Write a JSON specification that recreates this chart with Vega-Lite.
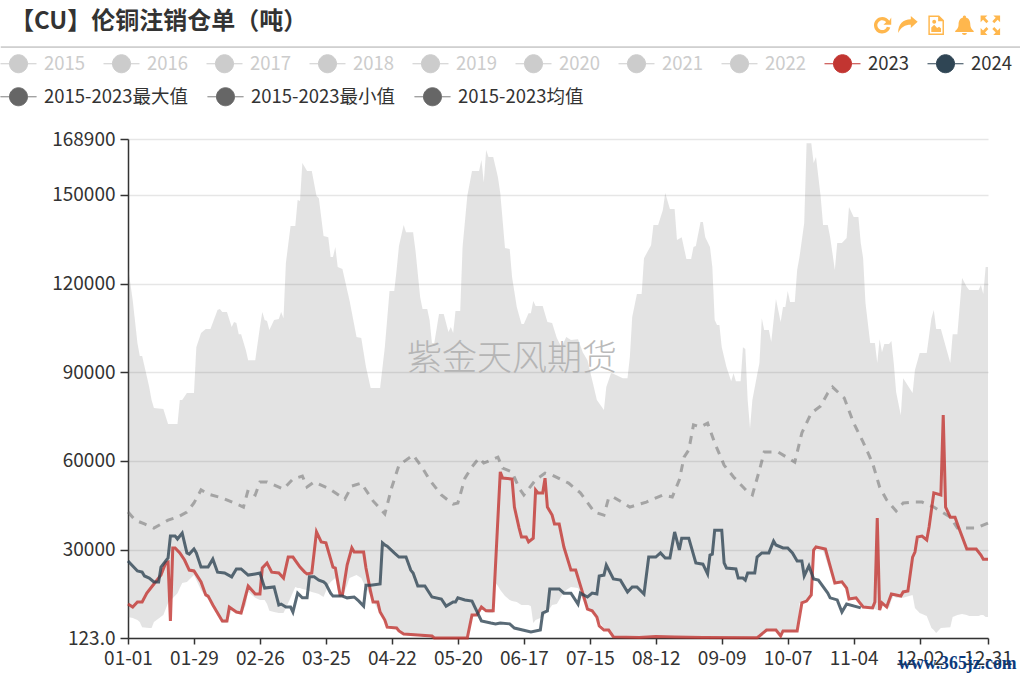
{
  "$schema": "https://vega.github.io/schema/vega-lite/v6.json",
  "width": 860,
  "height": 499,
  "autosize": "none",
  "padding": {"left": 128, "top": 139, "right": 32, "bottom": 41},
  "background": "white",
  "title": {
    "text": "【CU】伦铜注销仓单（吨）",
    "anchor": "start",
    "frame": "group",
    "dx": -118,
    "dy": 23,
    "font": "Noto Sans CJK SC",
    "fontSize": 24,
    "fontWeight": "bold",
    "color": "#333"
  },
  "datasets": {
    "band": [
      {"date":"2024-01-01","max":125600,"min":7200},{"date":"2024-01-03","max":114400,"min":6900},{"date":"2024-01-05","max":99900,"min":6200},{"date":"2024-01-06","max":95500,"min":5500},{"date":"2024-01-07","max":95500,"min":3800},{"date":"2024-01-10","max":85000,"min":3500},{"date":"2024-01-11","max":80600,"min":3500},{"date":"2024-01-12","max":77900,"min":5500},{"date":"2024-01-16","max":77600,"min":7900},{"date":"2024-01-18","max":72500,"min":12000},{"date":"2024-01-22","max":72500,"min":15300},{"date":"2024-01-23","max":80600,"min":17000},{"date":"2024-01-24","max":80600,"min":18700},{"date":"2024-01-26","max":83000,"min":19100},{"date":"2024-01-29","max":83000,"min":21400},{"date":"2024-01-30","max":98500,"min":19700},
      {"date":"2024-02-01","max":103300,"min":16400},{"date":"2024-02-03","max":104600,"min":14000},{"date":"2024-02-05","max":104600,"min":13000},{"date":"2024-02-08","max":111100,"min":8900},{"date":"2024-02-09","max":111400,"min":7200},{"date":"2024-02-10","max":110400,"min":5200},{"date":"2024-02-12","max":110400,"min":5200},{"date":"2024-02-14","max":105300,"min":9600},{"date":"2024-02-15","max":107000,"min":9300},{"date":"2024-02-16","max":106700,"min":8600},{"date":"2024-02-17","max":102900,"min":8200},{"date":"2024-02-18","max":102900,"min":7900},{"date":"2024-02-20","max":97500,"min":11300},{"date":"2024-02-21","max":94100,"min":15700},{"date":"2024-02-24","max":94100,"min":13700},{"date":"2024-02-26","max":105300,"min":13000},{"date":"2024-02-27","max":110400,"min":13000},{"date":"2024-02-28","max":107700,"min":13000},{"date":"2024-02-29","max":107300,"min":11600},
      {"date":"2024-03-01","max":104300,"min":9300},{"date":"2024-03-03","max":107700,"min":8900},{"date":"2024-03-05","max":108000,"min":8600},{"date":"2024-03-06","max":110400,"min":8600},{"date":"2024-03-07","max":108300,"min":8600},{"date":"2024-03-08","max":126900,"min":10300},{"date":"2024-03-10","max":139500,"min":13700},{"date":"2024-03-12","max":139500,"min":17400},{"date":"2024-03-13","max":148300,"min":17000},{"date":"2024-03-14","max":147900,"min":17000},{"date":"2024-03-15","max":160800,"min":16700},{"date":"2024-03-17","max":158100,"min":16400},{"date":"2024-03-19","max":158100,"min":15700},{"date":"2024-03-21","max":149600,"min":15300},{"date":"2024-03-22","max":148900,"min":15000},{"date":"2024-03-24","max":136100,"min":14000},{"date":"2024-03-26","max":135700,"min":18000},{"date":"2024-03-27","max":129000,"min":19100},{"date":"2024-03-28","max":129000,"min":19700},{"date":"2024-03-29","max":132400,"min":20400},{"date":"2024-03-30","max":125600,"min":16400},
      {"date":"2024-04-01","max":124900,"min":14000},{"date":"2024-04-03","max":117800,"min":18000},{"date":"2024-04-04","max":114400,"min":20400},{"date":"2024-04-07","max":101900,"min":21400},{"date":"2024-04-09","max":101600,"min":20400},{"date":"2024-04-11","max":91800,"min":17000},{"date":"2024-04-13","max":84700,"min":14300},{"date":"2024-04-17","max":84700,"min":8200},{"date":"2024-04-19","max":98500,"min":5500},{"date":"2024-04-21","max":117500,"min":3500},{"date":"2024-04-23","max":117500,"min":3200},{"date":"2024-04-24","max":124600,"min":3200},{"date":"2024-04-25","max":132700,"min":2500},{"date":"2024-04-27","max":139800,"min":1100},{"date":"2024-04-28","max":137400,"min":1100},
      {"date":"2024-05-01","max":137400,"min":800},{"date":"2024-05-02","max":131300,"min":800},{"date":"2024-05-04","max":115400,"min":800},{"date":"2024-05-05","max":111400,"min":500},{"date":"2024-05-07","max":111400,"min":500},{"date":"2024-05-08","max":107700,"min":500},{"date":"2024-05-09","max":99900,"min":300},{"date":"2024-05-10","max":99900,"min":200},{"date":"2024-05-12","max":109700,"min":200},{"date":"2024-05-14","max":109700,"min":200},{"date":"2024-05-16","max":103600,"min":200},{"date":"2024-05-17","max":105300,"min":200},{"date":"2024-05-18","max":103300,"min":200},{"date":"2024-05-19","max":110700,"min":200},{"date":"2024-05-21","max":110700,"min":200},{"date":"2024-05-22","max":132400,"min":200},{"date":"2024-05-24","max":149600,"min":200},{"date":"2024-05-26","max":158100,"min":7200},{"date":"2024-05-29","max":158100,"min":7900},{"date":"2024-05-30","max":161800,"min":9900},{"date":"2024-05-31","max":154300,"min":9600},
      {"date":"2024-06-01","max":165200,"min":8900},{"date":"2024-06-02","max":162800,"min":8600},{"date":"2024-06-04","max":162800,"min":8600},{"date":"2024-06-05","max":159400,"min":18700},{"date":"2024-06-06","max":156000,"min":17700},{"date":"2024-06-07","max":150600,"min":16400},{"date":"2024-06-09","max":132000,"min":14300},{"date":"2024-06-11","max":131700,"min":13000},{"date":"2024-06-12","max":122200,"min":12600},{"date":"2024-06-14","max":112100,"min":12300},{"date":"2024-06-16","max":106300,"min":11300},{"date":"2024-06-17","max":106300,"min":11300},{"date":"2024-06-19","max":110000,"min":11300},{"date":"2024-06-20","max":110000,"min":10900},{"date":"2024-06-21","max":114100,"min":5200},{"date":"2024-06-22","max":112400,"min":6200},{"date":"2024-06-25","max":112400,"min":7200},{"date":"2024-06-27","max":107000,"min":8900},{"date":"2024-06-29","max":106700,"min":11300},
      {"date":"2024-07-01","max":101600,"min":11600},{"date":"2024-07-03","max":98500,"min":14300},{"date":"2024-07-05","max":101900,"min":16400},{"date":"2024-07-07","max":100900,"min":17400},{"date":"2024-07-10","max":101200,"min":17000},{"date":"2024-07-12","max":96800,"min":13000},{"date":"2024-07-14","max":94100,"min":9600},{"date":"2024-07-16","max":87400,"min":8900},{"date":"2024-07-18","max":80600,"min":6900},{"date":"2024-07-21","max":77200,"min":3500},{"date":"2024-07-22","max":85000,"min":2800},{"date":"2024-07-24","max":89700,"min":2500},{"date":"2024-07-25","max":89500,"min":500},{"date":"2024-07-29","max":88000,"min":300},{"date":"2024-07-31","max":88000,"min":300},
      {"date":"2024-08-01","max":95200,"min":300},{"date":"2024-08-02","max":108700,"min":300},{"date":"2024-08-04","max":116500,"min":300},{"date":"2024-08-06","max":116500,"min":300},{"date":"2024-08-07","max":128600,"min":300},{"date":"2024-08-10","max":133000,"min":300},{"date":"2024-08-11","max":139800,"min":300},{"date":"2024-08-13","max":139800,"min":300},{"date":"2024-08-15","max":144900,"min":300},{"date":"2024-08-16","max":150600,"min":300},{"date":"2024-08-18","max":145200,"min":300},{"date":"2024-08-20","max":145200,"min":300},{"date":"2024-08-21","max":134700,"min":300},{"date":"2024-08-23","max":135700,"min":300},{"date":"2024-08-25","max":128300,"min":300},{"date":"2024-08-27","max":128300,"min":300},{"date":"2024-08-28","max":132400,"min":300},{"date":"2024-08-29","max":132700,"min":300},{"date":"2024-08-31","max":140800,"min":300},
      {"date":"2024-09-01","max":140800,"min":300},{"date":"2024-09-02","max":135700,"min":300},{"date":"2024-09-04","max":132400,"min":300},{"date":"2024-09-05","max":125600,"min":300},{"date":"2024-09-06","max":107700,"min":300},{"date":"2024-09-07","max":106000,"min":300},{"date":"2024-09-08","max":106000,"min":300},{"date":"2024-09-09","max":98500,"min":300},{"date":"2024-09-11","max":91800,"min":300},{"date":"2024-09-13","max":87000,"min":300},{"date":"2024-09-14","max":89700,"min":300},{"date":"2024-09-15","max":87000,"min":300},{"date":"2024-09-17","max":87000,"min":300},{"date":"2024-09-18","max":98500,"min":300},{"date":"2024-09-19","max":97900,"min":300},{"date":"2024-09-20","max":80600,"min":300},{"date":"2024-09-21","max":71100,"min":300},{"date":"2024-09-22","max":80600,"min":300},{"date":"2024-09-24","max":89100,"min":300},{"date":"2024-09-25","max":93100,"min":500},{"date":"2024-09-26","max":108300,"min":1000},{"date":"2024-09-27","max":104300,"min":1800},{"date":"2024-09-29","max":104300,"min":2500},{"date":"2024-09-30","max":100200,"min":2500},
      {"date":"2024-10-02","max":114800,"min":2500},{"date":"2024-10-04","max":107000,"min":500},{"date":"2024-10-05","max":112100,"min":2100},{"date":"2024-10-06","max":112100,"min":2100},{"date":"2024-10-07","max":117500,"min":2100},{"date":"2024-10-08","max":113800,"min":2100},{"date":"2024-10-10","max":113800,"min":2100},{"date":"2024-10-11","max":124600,"min":2100},{"date":"2024-10-12","max":129000,"min":12000},{"date":"2024-10-14","max":140500,"min":12300},{"date":"2024-10-15","max":167500,"min":12300},{"date":"2024-10-17","max":167500,"min":14300},{"date":"2024-10-18","max":160800,"min":29500},{"date":"2024-10-19","max":162800,"min":30200},{"date":"2024-10-21","max":149300,"min":30200},{"date":"2024-10-22","max":139800,"min":29800},{"date":"2024-10-24","max":139800,"min":24800},{"date":"2024-10-25","max":135700,"min":22400},{"date":"2024-10-27","max":124600,"min":18400},{"date":"2024-10-28","max":133700,"min":18400},{"date":"2024-10-30","max":133700,"min":18700},
      {"date":"2024-11-01","max":135400,"min":16700},{"date":"2024-11-02","max":145900,"min":13000},{"date":"2024-11-04","max":142500,"min":13000},{"date":"2024-11-06","max":142500,"min":13300},{"date":"2024-11-07","max":133700,"min":12600},{"date":"2024-11-08","max":128600,"min":10300},{"date":"2024-11-09","max":113400,"min":10300},{"date":"2024-11-11","max":99900,"min":9900},{"date":"2024-11-13","max":99900,"min":9900},{"date":"2024-11-14","max":93100,"min":9600},{"date":"2024-11-15","max":101200,"min":9300},{"date":"2024-11-16","max":96800,"min":11600},{"date":"2024-11-17","max":99600,"min":10900},{"date":"2024-11-19","max":99600,"min":10300},{"date":"2024-11-20","max":100600,"min":13000},{"date":"2024-11-21","max":93100,"min":14300},{"date":"2024-11-22","max":83300,"min":13700},{"date":"2024-11-24","max":75500,"min":13700},{"date":"2024-11-25","max":88000,"min":13700},{"date":"2024-11-29","max":83000,"min":14700},{"date":"2024-11-30","max":90800,"min":10300},
      {"date":"2024-12-02","max":96500,"min":8600},{"date":"2024-12-05","max":96500,"min":7600},{"date":"2024-12-07","max":108300,"min":3500},{"date":"2024-12-08","max":111100,"min":2800},{"date":"2024-12-09","max":104600,"min":1800},{"date":"2024-12-11","max":104600,"min":3500},{"date":"2024-12-15","max":93100,"min":3800},{"date":"2024-12-16","max":102900,"min":7200},{"date":"2024-12-18","max":102900,"min":7900},{"date":"2024-12-20","max":121900,"min":8200},{"date":"2024-12-22","max":118800,"min":7900},{"date":"2024-12-23","max":117800,"min":7600},{"date":"2024-12-27","max":117800,"min":7600},{"date":"2024-12-28","max":119500,"min":7900},{"date":"2024-12-29","max":116500,"min":7900},{"date":"2024-12-30","max":125600,"min":7200},{"date":"2024-12-31","max":125600,"min":7200}
    ],
    "years": [
      {"date":"2024-01-01","year":"2023","value":11600},{"date":"2024-01-03","year":"2023","value":10600},{"date":"2024-01-05","year":"2023","value":12300},{"date":"2024-01-07","year":"2023","value":12300},{"date":"2024-01-09","year":"2023","value":15300},{"date":"2024-01-12","year":"2023","value":18400},{"date":"2024-01-15","year":"2023","value":21400},{"date":"2024-01-17","year":"2023","value":25500},{"date":"2024-01-18","year":"2023","value":25800},{"date":"2024-01-19","year":"2023","value":5900},{"date":"2024-01-20","year":"2023","value":30600},{"date":"2024-01-21","year":"2023","value":30600},{"date":"2024-01-23","year":"2023","value":28900},{"date":"2024-01-25","year":"2023","value":26500},{"date":"2024-01-27","year":"2023","value":23100},{"date":"2024-01-29","year":"2023","value":22800},
      {"date":"2024-02-01","year":"2023","value":19100},{"date":"2024-02-03","year":"2023","value":14700},{"date":"2024-02-04","year":"2023","value":14300},{"date":"2024-02-06","year":"2023","value":11300},{"date":"2024-02-10","year":"2023","value":5900},{"date":"2024-02-12","year":"2023","value":5900},{"date":"2024-02-13","year":"2023","value":10600},{"date":"2024-02-16","year":"2023","value":8900},{"date":"2024-02-18","year":"2023","value":8600},{"date":"2024-02-21","year":"2023","value":17700},{"date":"2024-02-24","year":"2023","value":15000},{"date":"2024-02-26","year":"2023","value":15000},{"date":"2024-02-27","year":"2023","value":23800},{"date":"2024-02-29","year":"2023","value":25500},
      {"date":"2024-03-02","year":"2023","value":22400},{"date":"2024-03-05","year":"2023","value":22100},{"date":"2024-03-07","year":"2023","value":20400},{"date":"2024-03-09","year":"2023","value":27500},{"date":"2024-03-11","year":"2023","value":27500},{"date":"2024-03-14","year":"2023","value":24100},{"date":"2024-03-16","year":"2023","value":22400},{"date":"2024-03-17","year":"2023","value":21800},{"date":"2024-03-19","year":"2023","value":22100},{"date":"2024-03-21","year":"2023","value":36000},{"date":"2024-03-23","year":"2023","value":32600},{"date":"2024-03-25","year":"2023","value":32300},{"date":"2024-03-28","year":"2023","value":24100},{"date":"2024-03-29","year":"2023","value":23800},{"date":"2024-03-31","year":"2023","value":14700},
      {"date":"2024-04-01","year":"2023","value":14700},{"date":"2024-04-03","year":"2023","value":24800},{"date":"2024-04-05","year":"2023","value":30600},{"date":"2024-04-06","year":"2023","value":29200},{"date":"2024-04-10","year":"2023","value":29200},{"date":"2024-04-11","year":"2023","value":23800},{"date":"2024-04-13","year":"2023","value":15700},{"date":"2024-04-14","year":"2023","value":12300},{"date":"2024-04-16","year":"2023","value":12300},{"date":"2024-04-17","year":"2023","value":8900},{"date":"2024-04-19","year":"2023","value":6200},{"date":"2024-04-20","year":"2023","value":3800},{"date":"2024-04-24","year":"2023","value":3500},{"date":"2024-04-25","year":"2023","value":2500},{"date":"2024-04-27","year":"2023","value":1500},
      {"date":"2024-05-03","year":"2023","value":1100},{"date":"2024-05-09","year":"2023","value":800},{"date":"2024-05-10","year":"2023","value":123},{"date":"2024-05-24","year":"2023","value":123},{"date":"2024-05-26","year":"2023","value":7900},{"date":"2024-05-28","year":"2023","value":7900},{"date":"2024-05-30","year":"2023","value":10600},
      {"date":"2024-06-01","year":"2023","value":9300},{"date":"2024-06-04","year":"2023","value":9300},{"date":"2024-06-07","year":"2023","value":56300},{"date":"2024-06-08","year":"2023","value":54200},{"date":"2024-06-12","year":"2023","value":53900},{"date":"2024-06-13","year":"2023","value":44400},{"date":"2024-06-15","year":"2023","value":37300},{"date":"2024-06-16","year":"2023","value":34300},{"date":"2024-06-18","year":"2023","value":34300},{"date":"2024-06-19","year":"2023","value":32600},{"date":"2024-06-21","year":"2023","value":33900},{"date":"2024-06-22","year":"2023","value":50200},{"date":"2024-06-23","year":"2023","value":49200},{"date":"2024-06-25","year":"2023","value":49200},{"date":"2024-06-26","year":"2023","value":54200},{"date":"2024-06-27","year":"2023","value":44400},{"date":"2024-06-29","year":"2023","value":41700},{"date":"2024-06-30","year":"2023","value":38700},
      {"date":"2024-07-02","year":"2023","value":38700},{"date":"2024-07-04","year":"2023","value":30900},{"date":"2024-07-07","year":"2023","value":23100},{"date":"2024-07-09","year":"2023","value":23100},{"date":"2024-07-12","year":"2023","value":15300},{"date":"2024-07-14","year":"2023","value":9900},{"date":"2024-07-16","year":"2023","value":9300},{"date":"2024-07-18","year":"2023","value":7200},{"date":"2024-07-19","year":"2023","value":4200},{"date":"2024-07-21","year":"2023","value":2800},{"date":"2024-07-23","year":"2023","value":2800},{"date":"2024-07-25","year":"2023","value":500},
      {"date":"2024-08-05","year":"2023","value":300},{"date":"2024-08-12","year":"2023","value":600},{"date":"2024-08-20","year":"2023","value":500},{"date":"2024-09-01","year":"2023","value":300},{"date":"2024-09-24","year":"2023","value":200},{"date":"2024-09-25","year":"2023","value":800},{"date":"2024-09-28","year":"2023","value":2800},
      {"date":"2024-10-02","year":"2023","value":2800},{"date":"2024-10-04","year":"2023","value":800},{"date":"2024-10-05","year":"2023","value":2500},{"date":"2024-10-11","year":"2023","value":2500},{"date":"2024-10-13","year":"2023","value":12000},{"date":"2024-10-15","year":"2023","value":12600},{"date":"2024-10-17","year":"2023","value":14700},{"date":"2024-10-18","year":"2023","value":29900},{"date":"2024-10-19","year":"2023","value":30900},{"date":"2024-10-23","year":"2023","value":30200},{"date":"2024-10-27","year":"2023","value":18700},{"date":"2024-10-30","year":"2023","value":19100},
      {"date":"2024-11-01","year":"2023","value":17000},{"date":"2024-11-02","year":"2023","value":13300},{"date":"2024-11-05","year":"2023","value":13700},{"date":"2024-11-08","year":"2023","value":10600},{"date":"2024-11-12","year":"2023","value":10300},{"date":"2024-11-13","year":"2023","value":12300},{"date":"2024-11-14","year":"2023","value":40700},{"date":"2024-11-15","year":"2023","value":9600},{"date":"2024-11-16","year":"2023","value":12000},{"date":"2024-11-18","year":"2023","value":10600},{"date":"2024-11-20","year":"2023","value":15000},{"date":"2024-11-24","year":"2023","value":14300},{"date":"2024-11-25","year":"2023","value":15700},{"date":"2024-11-27","year":"2023","value":16000},{"date":"2024-11-29","year":"2023","value":27500},{"date":"2024-11-30","year":"2023","value":29200},
      {"date":"2024-12-01","year":"2023","value":34300},{"date":"2024-12-03","year":"2023","value":34600},{"date":"2024-12-05","year":"2023","value":33300},{"date":"2024-12-06","year":"2023","value":37700},{"date":"2024-12-08","year":"2023","value":49200},{"date":"2024-12-11","year":"2023","value":48500},{"date":"2024-12-12","year":"2023","value":75500},{"date":"2024-12-13","year":"2023","value":44400},{"date":"2024-12-15","year":"2023","value":41000},{"date":"2024-12-17","year":"2023","value":41000},{"date":"2024-12-19","year":"2023","value":36600},{"date":"2024-12-22","year":"2023","value":30200},{"date":"2024-12-26","year":"2023","value":30200},{"date":"2024-12-28","year":"2023","value":28200},{"date":"2024-12-29","year":"2023","value":26800},{"date":"2024-12-31","year":"2023","value":26800},

      {"date":"2024-01-01","year":"2024","value":26200},{"date":"2024-01-03","year":"2024","value":24500},{"date":"2024-01-05","year":"2024","value":22800},{"date":"2024-01-07","year":"2024","value":22400},{"date":"2024-01-08","year":"2024","value":21100},{"date":"2024-01-10","year":"2024","value":20400},{"date":"2024-01-12","year":"2024","value":19100},{"date":"2024-01-14","year":"2024","value":19100},{"date":"2024-01-15","year":"2024","value":24100},{"date":"2024-01-18","year":"2024","value":27200},{"date":"2024-01-19","year":"2024","value":34600},{"date":"2024-01-21","year":"2024","value":34600},{"date":"2024-01-22","year":"2024","value":33600},{"date":"2024-01-24","year":"2024","value":35600},{"date":"2024-01-26","year":"2024","value":28900},{"date":"2024-01-27","year":"2024","value":28500},{"date":"2024-01-29","year":"2024","value":30200},{"date":"2024-01-30","year":"2024","value":28900},
      {"date":"2024-02-01","year":"2024","value":24100},{"date":"2024-02-04","year":"2024","value":24100},{"date":"2024-02-06","year":"2024","value":26800},{"date":"2024-02-08","year":"2024","value":22400},{"date":"2024-02-11","year":"2024","value":22100},{"date":"2024-02-14","year":"2024","value":20800},{"date":"2024-02-16","year":"2024","value":23500},{"date":"2024-02-18","year":"2024","value":23500},{"date":"2024-02-21","year":"2024","value":21400},{"date":"2024-02-24","year":"2024","value":21800},{"date":"2024-02-26","year":"2024","value":22100},{"date":"2024-02-28","year":"2024","value":17000},
      {"date":"2024-03-03","year":"2024","value":17400},{"date":"2024-03-05","year":"2024","value":11300},{"date":"2024-03-06","year":"2024","value":11600},{"date":"2024-03-08","year":"2024","value":10600},{"date":"2024-03-10","year":"2024","value":10600},{"date":"2024-03-11","year":"2024","value":8900},{"date":"2024-03-13","year":"2024","value":15300},{"date":"2024-03-15","year":"2024","value":13700},{"date":"2024-03-17","year":"2024","value":13700},{"date":"2024-03-18","year":"2024","value":20800},{"date":"2024-03-20","year":"2024","value":20800},{"date":"2024-03-22","year":"2024","value":19700},{"date":"2024-03-24","year":"2024","value":19100},{"date":"2024-03-25","year":"2024","value":18400},{"date":"2024-03-27","year":"2024","value":15300},{"date":"2024-03-28","year":"2024","value":14300},
      {"date":"2024-04-01","year":"2024","value":14300},{"date":"2024-04-03","year":"2024","value":13700},{"date":"2024-04-06","year":"2024","value":14000},{"date":"2024-04-08","year":"2024","value":12600},{"date":"2024-04-10","year":"2024","value":10900},{"date":"2024-04-11","year":"2024","value":18000},{"date":"2024-04-13","year":"2024","value":18000},{"date":"2024-04-17","year":"2024","value":18400},{"date":"2024-04-18","year":"2024","value":32300},{"date":"2024-04-19","year":"2024","value":31600},{"date":"2024-04-20","year":"2024","value":31200},{"date":"2024-04-23","year":"2024","value":28900},{"date":"2024-04-25","year":"2024","value":27500},{"date":"2024-04-28","year":"2024","value":27500},{"date":"2024-04-30","year":"2024","value":23100},
      {"date":"2024-05-01","year":"2024","value":22100},{"date":"2024-05-03","year":"2024","value":17700},{"date":"2024-05-06","year":"2024","value":17700},{"date":"2024-05-09","year":"2024","value":14000},{"date":"2024-05-13","year":"2024","value":13300},{"date":"2024-05-15","year":"2024","value":10900},{"date":"2024-05-18","year":"2024","value":12300},{"date":"2024-05-19","year":"2024","value":12300},{"date":"2024-05-20","year":"2024","value":13700},{"date":"2024-05-23","year":"2024","value":13000},{"date":"2024-05-26","year":"2024","value":12600},{"date":"2024-05-30","year":"2024","value":5900},
      {"date":"2024-06-03","year":"2024","value":5200},{"date":"2024-06-05","year":"2024","value":4900},{"date":"2024-06-07","year":"2024","value":5200},{"date":"2024-06-11","year":"2024","value":4900},{"date":"2024-06-13","year":"2024","value":3500},{"date":"2024-06-20","year":"2024","value":2200},{"date":"2024-06-24","year":"2024","value":2800},{"date":"2024-06-25","year":"2024","value":8600},{"date":"2024-06-27","year":"2024","value":9300},{"date":"2024-06-28","year":"2024","value":16700},
      {"date":"2024-07-02","year":"2024","value":16700},{"date":"2024-07-04","year":"2024","value":15300},{"date":"2024-07-07","year":"2024","value":15300},{"date":"2024-07-10","year":"2024","value":11600},{"date":"2024-07-11","year":"2024","value":15300},{"date":"2024-07-14","year":"2024","value":14000},{"date":"2024-07-16","year":"2024","value":15300},{"date":"2024-07-18","year":"2024","value":15000},{"date":"2024-07-19","year":"2024","value":21100},{"date":"2024-07-21","year":"2024","value":21400},{"date":"2024-07-22","year":"2024","value":24800},{"date":"2024-07-25","year":"2024","value":20100},{"date":"2024-07-28","year":"2024","value":19700},{"date":"2024-07-31","year":"2024","value":15700},
      {"date":"2024-08-02","year":"2024","value":17400},{"date":"2024-08-04","year":"2024","value":17400},{"date":"2024-08-07","year":"2024","value":15000},{"date":"2024-08-09","year":"2024","value":27500},{"date":"2024-08-12","year":"2024","value":27500},{"date":"2024-08-14","year":"2024","value":28900},{"date":"2024-08-16","year":"2024","value":27200},{"date":"2024-08-18","year":"2024","value":27200},{"date":"2024-08-20","year":"2024","value":36000},{"date":"2024-08-22","year":"2024","value":29900},{"date":"2024-08-23","year":"2024","value":33900},{"date":"2024-08-26","year":"2024","value":33900},{"date":"2024-08-29","year":"2024","value":25500},
      {"date":"2024-09-01","year":"2024","value":25100},{"date":"2024-09-03","year":"2024","value":21800},{"date":"2024-09-04","year":"2024","value":28200},{"date":"2024-09-05","year":"2024","value":28500},{"date":"2024-09-06","year":"2024","value":36600},{"date":"2024-09-09","year":"2024","value":36600},{"date":"2024-09-10","year":"2024","value":25500},{"date":"2024-09-11","year":"2024","value":23800},{"date":"2024-09-15","year":"2024","value":23500},{"date":"2024-09-16","year":"2024","value":20400},{"date":"2024-09-18","year":"2024","value":20400},{"date":"2024-09-19","year":"2024","value":19700},{"date":"2024-09-20","year":"2024","value":22100},{"date":"2024-09-23","year":"2024","value":22100},{"date":"2024-09-24","year":"2024","value":27500},{"date":"2024-09-26","year":"2024","value":28900},{"date":"2024-09-29","year":"2024","value":28900},
      {"date":"2024-10-01","year":"2024","value":32900},{"date":"2024-10-02","year":"2024","value":31600},{"date":"2024-10-05","year":"2024","value":30600},{"date":"2024-10-07","year":"2024","value":30600},{"date":"2024-10-09","year":"2024","value":28900},{"date":"2024-10-11","year":"2024","value":26200},{"date":"2024-10-13","year":"2024","value":26200},{"date":"2024-10-14","year":"2024","value":21100},{"date":"2024-10-16","year":"2024","value":24500},{"date":"2024-10-18","year":"2024","value":20100},{"date":"2024-10-20","year":"2024","value":19700},{"date":"2024-10-24","year":"2024","value":15300},{"date":"2024-10-25","year":"2024","value":13700},{"date":"2024-10-28","year":"2024","value":13000},{"date":"2024-10-30","year":"2024","value":8900},
      {"date":"2024-11-01","year":"2024","value":11600},{"date":"2024-11-07","year":"2024","value":10300}
    ],
    "average": [
      {"date":"2024-01-01","stat":"2015-2023均值","value":42700},{"date":"2024-01-04","stat":"2015-2023均值","value":40000},{"date":"2024-01-08","stat":"2015-2023均值","value":38700},{"date":"2024-01-12","stat":"2015-2023均值","value":37300},{"date":"2024-01-18","stat":"2015-2023均值","value":40000},{"date":"2024-01-22","stat":"2015-2023均值","value":41000},{"date":"2024-01-26","stat":"2015-2023均值","value":42700},{"date":"2024-01-29","stat":"2015-2023均值","value":45800},
      {"date":"2024-02-01","stat":"2015-2023均值","value":50200},{"date":"2024-02-04","stat":"2015-2023均值","value":48800},{"date":"2024-02-10","stat":"2015-2023均值","value":47500},{"date":"2024-02-15","stat":"2015-2023均值","value":45800},{"date":"2024-02-19","stat":"2015-2023均值","value":44400},{"date":"2024-02-21","stat":"2015-2023均值","value":50200},{"date":"2024-02-24","stat":"2015-2023均值","value":48500},{"date":"2024-02-26","stat":"2015-2023均值","value":52900},{"date":"2024-02-29","stat":"2015-2023均值","value":52900},
      {"date":"2024-03-07","stat":"2015-2023均值","value":50500},{"date":"2024-03-11","stat":"2015-2023均值","value":53900},{"date":"2024-03-15","stat":"2015-2023均值","value":54900},{"date":"2024-03-17","stat":"2015-2023均值","value":51200},{"date":"2024-03-20","stat":"2015-2023均值","value":52900},{"date":"2024-03-26","stat":"2015-2023均值","value":50800},
      {"date":"2024-04-02","stat":"2015-2023均值","value":47100},{"date":"2024-04-05","stat":"2015-2023均值","value":51500},{"date":"2024-04-09","stat":"2015-2023均值","value":52500},{"date":"2024-04-14","stat":"2015-2023均值","value":46500},{"date":"2024-04-19","stat":"2015-2023均值","value":42100},{"date":"2024-04-22","stat":"2015-2023均值","value":51200},{"date":"2024-04-25","stat":"2015-2023均值","value":58600},
      {"date":"2024-05-01","stat":"2015-2023均值","value":62000},{"date":"2024-05-05","stat":"2015-2023均值","value":57600},{"date":"2024-05-08","stat":"2015-2023均值","value":53600},{"date":"2024-05-13","stat":"2015-2023均值","value":48500},{"date":"2024-05-18","stat":"2015-2023均值","value":45400},{"date":"2024-05-20","stat":"2015-2023均值","value":45800},{"date":"2024-05-23","stat":"2015-2023均值","value":54200},{"date":"2024-05-26","stat":"2015-2023均值","value":58000},{"date":"2024-05-29","stat":"2015-2023均值","value":61000},{"date":"2024-05-31","stat":"2015-2023均值","value":59300},
      {"date":"2024-06-06","stat":"2015-2023均值","value":61300},{"date":"2024-06-08","stat":"2015-2023均值","value":57600},{"date":"2024-06-12","stat":"2015-2023均值","value":56300},{"date":"2024-06-15","stat":"2015-2023均值","value":50800},{"date":"2024-06-17","stat":"2015-2023均值","value":48500},{"date":"2024-06-22","stat":"2015-2023均值","value":53600},{"date":"2024-06-26","stat":"2015-2023均值","value":55900},{"date":"2024-06-29","stat":"2015-2023均值","value":55200},
      {"date":"2024-07-06","stat":"2015-2023均值","value":52500},{"date":"2024-07-11","stat":"2015-2023均值","value":49200},{"date":"2024-07-17","stat":"2015-2023均值","value":42700},{"date":"2024-07-21","stat":"2015-2023均值","value":41700},{"date":"2024-07-23","stat":"2015-2023均值","value":47500},{"date":"2024-07-25","stat":"2015-2023均值","value":47800},
      {"date":"2024-08-01","stat":"2015-2023均值","value":44400},{"date":"2024-08-08","stat":"2015-2023均值","value":46100},{"date":"2024-08-15","stat":"2015-2023均值","value":48500},{"date":"2024-08-19","stat":"2015-2023均值","value":47800},{"date":"2024-08-22","stat":"2015-2023均值","value":53600},{"date":"2024-08-24","stat":"2015-2023均值","value":61300},{"date":"2024-08-26","stat":"2015-2023均值","value":63700},{"date":"2024-08-28","stat":"2015-2023均值","value":72200},{"date":"2024-08-31","stat":"2015-2023均值","value":71500},
      {"date":"2024-09-03","stat":"2015-2023均值","value":72800},{"date":"2024-09-06","stat":"2015-2023均值","value":66100},{"date":"2024-09-10","stat":"2015-2023均值","value":58600},{"date":"2024-09-14","stat":"2015-2023均值","value":54600},{"date":"2024-09-20","stat":"2015-2023均值","value":49500},{"date":"2024-09-22","stat":"2015-2023均值","value":48500},{"date":"2024-09-25","stat":"2015-2023均值","value":56900},{"date":"2024-09-27","stat":"2015-2023均值","value":63000},
      {"date":"2024-10-03","stat":"2015-2023均值","value":63000},{"date":"2024-10-10","stat":"2015-2023均值","value":59600},{"date":"2024-10-13","stat":"2015-2023均值","value":69500},{"date":"2024-10-17","stat":"2015-2023均值","value":76200},{"date":"2024-10-21","stat":"2015-2023均值","value":78600},{"date":"2024-10-24","stat":"2015-2023均值","value":83000},{"date":"2024-10-26","stat":"2015-2023均值","value":85000},{"date":"2024-10-31","stat":"2015-2023均值","value":81300},
      {"date":"2024-11-04","stat":"2015-2023均值","value":72800},{"date":"2024-11-08","stat":"2015-2023均值","value":66400},{"date":"2024-11-12","stat":"2015-2023均值","value":59300},{"date":"2024-11-15","stat":"2015-2023均值","value":51200},{"date":"2024-11-18","stat":"2015-2023均值","value":46800},{"date":"2024-11-22","stat":"2015-2023均值","value":43100},{"date":"2024-11-25","stat":"2015-2023均值","value":45800},{"date":"2024-11-29","stat":"2015-2023均值","value":46100},
      {"date":"2024-12-03","stat":"2015-2023均值","value":46100},{"date":"2024-12-08","stat":"2015-2023均值","value":44400},{"date":"2024-12-15","stat":"2015-2023均值","value":41000},{"date":"2024-12-18","stat":"2015-2023均值","value":37300},{"date":"2024-12-26","stat":"2015-2023均值","value":37300},{"date":"2024-12-31","stat":"2015-2023均值","value":39000}
    ]
  },
  "layer": [
    {
      "data": {"name": "band"},
      "mark": {"type": "area", "color": "#666", "opacity": 0.18},
      "encoding": {
        "x": {
          "field": "date",
          "type": "temporal",
          "title": null,
          "scale": {"domain": ["2024-01-01", "2024-12-31"]},
          "axis": {
            "values": ["2024-01-01", "2024-01-29", "2024-02-26", "2024-03-25", "2024-04-22", "2024-05-20", "2024-06-17", "2024-07-15", "2024-08-12", "2024-09-09", "2024-10-07", "2024-11-04", "2024-12-02", "2024-12-31"],
            "format": "%m-%d",
            "grid": false,
            "labelFont": "Noto Sans CJK SC",
            "labelFontSize": 19,
            "labelColor": "#333",
            "labelOverlap": false,
            "labelFlush": false,
            "labelPadding": 5,
            "domainColor": "#333",
            "domainWidth": 1.5,
            "tickColor": "#333",
            "tickWidth": 1.5,
            "tickSize": 6
          }
        },
        "y": {
          "field": "max",
          "type": "quantitative",
          "title": null,
          "scale": {"domain": [123, 168900], "nice": false, "zero": false},
          "axis": {
            "values": [123, 30000, 60000, 90000, 120000, 150000, 168900],
            "labelExpr": "datum.value == 123 ? '123.0' : format(datum.value, 'd')",
            "labelFont": "Noto Sans CJK SC",
            "labelFontSize": 19,
            "labelColor": "#333",
            "labelPadding": 5,
            "domainColor": "#333",
            "domainWidth": 1.5,
            "tickColor": "#333",
            "tickWidth": 1.5,
            "tickSize": 8,
            "gridColor": "#e6e6e6",
            "gridWidth": 1.5
          }
        },
        "y2": {"field": "min"}
      }
    },
    {
      "data": {"name": "average"},
      "mark": {"type": "line", "strokeWidth": 3, "opacity": 0.5, "strokeDash": [8, 7]},
      "encoding": {
        "x": {"field": "date", "type": "temporal"},
        "y": {"field": "value", "type": "quantitative"},
        "stroke": {
          "field": "stat",
          "type": "nominal",
          "scale": {
            "domain": ["2015-2023最大值", "2015-2023最小值", "2015-2023均值"],
            "range": ["#666", "#666", "#666"]
          },
          "legend": {
            "orient": "none",
            "legendX": -128,
            "legendY": -61,
            "direction": "horizontal",
            "columns": 3,
            "title": null,
            "symbolType": "M-1,0H-0.5M0.5,0H1M0.5,0A0.5,0.5 0 1 1 -0.5,0A0.5,0.5 0 1 1 0.5,0Z",
            "symbolSize": 1296,
            "symbolStrokeWidth": 1,
            "symbolOpacity": 1,
            "labelFont": "Noto Sans CJK SC",
            "labelFontSize": 18.5,
            "labelColor": "#333",
            "labelLimit": 300,
            "labelOffset": 7,
            "columnPadding": 16,
            "encoding": {"symbols": {"fill": {"value": "#666"}, "strokeDash": {"value": [1, 0]}}}
          }
        }
      }
    },
    {
      "data": {"name": "years"},
      "mark": {"type": "line", "strokeWidth": 3, "opacity": 0.8},
      "encoding": {
        "x": {"field": "date", "type": "temporal"},
        "y": {"field": "value", "type": "quantitative"},
        "color": {
          "field": "year",
          "type": "nominal",
          "scale": {
            "domain": ["2015", "2016", "2017", "2018", "2019", "2020", "2021", "2022", "2023", "2024"],
            "range": ["#ccc", "#ccc", "#ccc", "#ccc", "#ccc", "#ccc", "#ccc", "#ccc", "#c23531", "#2f4554"]
          },
          "legend": {
            "orient": "none",
            "legendX": -128,
            "legendY": -94,
            "direction": "horizontal",
            "columns": 10,
            "title": null,
            "symbolType": "M-1,0H-0.5M0.5,0H1M0.5,0A0.5,0.5 0 1 1 -0.5,0A0.5,0.5 0 1 1 0.5,0Z",
            "symbolSize": 1296,
            "symbolStrokeWidth": 1,
            "symbolOpacity": 1,
            "labelFont": "Noto Sans CJK SC",
            "labelFontSize": 18.5,
            "labelColor": {"expr": "datum.value >= 2023 ? '#333' : '#ccc'"},
            "labelOffset": 7,
            "columnPadding": 15,
            "encoding": {"symbols": {"fill": {"value": {"expr": "datum.value == '2023' ? '#c23531' : datum.value == '2024' ? '#2f4554' : '#ccc'"}}}}
          }
        }
      }
    },
    {
      "data": {"values": [{"date": "2024-06-12", "value": 94500, "text": "紫金天风期货"}]},
      "mark": {"type": "text", "font": "Noto Sans CJK SC", "fontSize": 35, "fontWeight": 300, "color": "#aaa", "opacity": 0.8},
      "encoding": {
        "x": {"field": "date", "type": "temporal"},
        "y": {"field": "value", "type": "quantitative"},
        "text": {"field": "text"}
      }
    },
    {
      "data": {"values": [{"from": "2023-11-08", "to": "2025-01-14", "value": 200000}]},
      "mark": {"type": "rule", "color": "#aaa", "strokeWidth": 1},
      "encoding": {
        "x": {"field": "from", "type": "temporal"},
        "x2": {"field": "to"},
        "y": {"field": "value", "type": "quantitative"}
      }
    },
    {
      "data": {"values": [
        {"date": "2024-11-16", "value": 207400, "icon": "refresh"},
        {"date": "2024-11-27", "value": 207400, "icon": "share"},
        {"date": "2024-12-09", "value": 207400, "icon": "image"},
        {"date": "2024-12-21", "value": 207400, "icon": "bell"},
        {"date": "2025-01-01", "value": 207400, "icon": "expand"}
      ]},
      "mark": {"type": "point", "filled": true, "color": "#ffb74d", "opacity": 1, "size": 380},
      "encoding": {
        "x": {"field": "date", "type": "temporal"},
        "y": {"field": "value", "type": "quantitative"},
        "shape": {
          "field": "icon",
          "type": "nominal",
          "legend": null,
          "scale": {
            "domain": ["refresh", "share", "image", "bell", "expand"],
            "range": [
              "M0.75,-0.45A0.85,0.85 0 1 0 0.85,0.25L0.5,0.15A0.5,0.5 0 1 1 0.42,-0.3L0.15,-0.05L0.95,-0.05L0.95,-0.8Z",
              "M1,-0.35L0.3,-0.95L0.3,-0.6C-0.5,-0.6 -1,-0.1 -1,0.8C-0.7,0.2 -0.3,-0.05 0.3,-0.05L0.3,0.3Z",
              "M-0.8,-1H0.3L0.8,-0.5V1H-0.8ZM-0.65,-0.85V0.85H0.65V-0.4H0.2V-0.85ZM-0.5,0.7V0.25L-0.2,-0.05L0.1,0.3L0.3,0.15L0.5,0.35V0.7ZM-0.2,-0.55A0.2,0.2 0 1 1 -0.2,-0.15A0.2,0.2 0 1 1 -0.2,-0.55Z",
              "M0,-1A0.15,0.15 0 0 1 0.15,-0.8C0.5,-0.7 0.6,-0.4 0.6,-0.1C0.6,0.2 0.7,0.4 0.95,0.6V0.7H-0.95V0.6C-0.7,0.4 -0.6,0.2 -0.6,-0.1C-0.6,-0.4 -0.5,-0.7 -0.15,-0.8A0.15,0.15 0 0 1 0,-1ZM-0.25,0.8H0.25A0.25,0.2 0 0 1 -0.25,0.8Z",
              "M-1,-1H-0.3L-0.55,-0.75L-0.2,-0.4L-0.4,-0.2L-0.75,-0.55L-1,-0.3ZM1,-1V-0.3L0.75,-0.55L0.4,-0.2L0.2,-0.4L0.55,-0.75L0.3,-1ZM-1,1V0.3L-0.75,0.55L-0.4,0.2L-0.2,0.4L-0.55,0.75L-0.3,1ZM1,1H0.3L0.55,0.75L0.2,0.4L0.4,0.2L0.75,0.55L1,0.3Z"
            ]
          }
        }
      }
    },
    {
      "data": {"values": [{"date": "2024-12-18", "value": -8700, "text": "www.365jz.com"}]},
      "mark": {"type": "text", "font": "Liberation Serif", "fontSize": 17.8, "fontWeight": "bold", "color": "#0b3a7e"},
      "encoding": {
        "x": {"field": "date", "type": "temporal"},
        "y": {"field": "value", "type": "quantitative"},
        "text": {"field": "text"}
      }
    }
  ],
  "config": {
    "view": {"stroke": null},
    "axisX": {"zindex": 1},
    "axisY": {"zindex": 0}
  }
}
